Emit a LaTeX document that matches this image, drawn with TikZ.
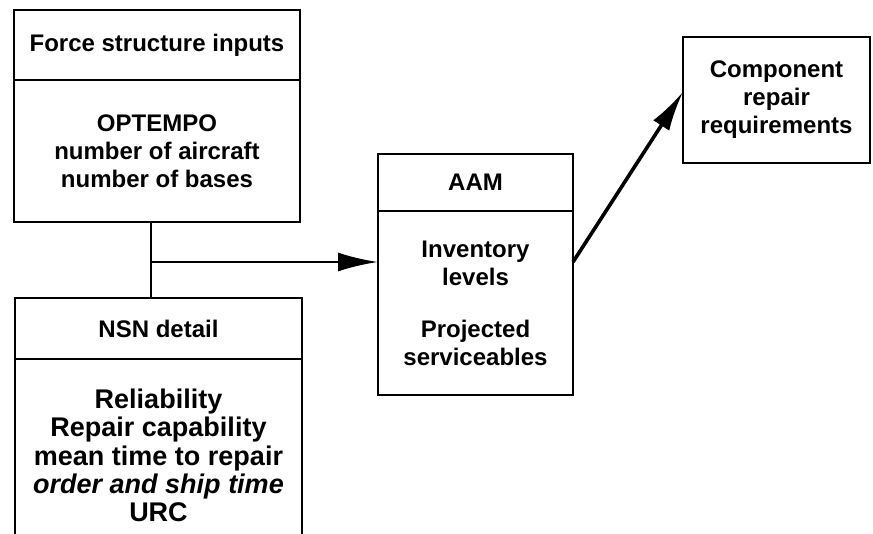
\documentclass[tikz,border=0pt]{standalone}
\usepackage{fontspec}
\setmainfont{Liberation Sans}
\usetikzlibrary{arrows.meta,positioning}

\begin{document}
\begin{tikzpicture}[x=1pt,y=-1pt,
  box/.style={draw,line width=2.4pt,outer sep=0pt,inner sep=0pt,align=center,
    font=\bfseries\fontsize{24}{28}\selectfont},
  link/.style={line width=2.6pt},
  arr/.style={line width=2.6pt,-{Latex[length=40pt,width=19pt]}}]
\useasboundingbox (0,0) rectangle (873,533);
\clip (0,0) rectangle (873,533);
% inputs
\node[box,minimum width=286,minimum height=70] (forcehd) at (157,45) {Force structure inputs};
\node[box,minimum width=286,minimum height=142,below=0pt of forcehd] (forcebody)
  {OPTEMPO\\number of aircraft\\number of bases};
\node[box,minimum width=287,minimum height=61] (nsnhd) at (158.5,328.5) {NSN detail};
\node[box,minimum width=287,minimum height=193,below=0pt of nsnhd,
  font=\bfseries\fontsize{27}{28.2}\selectfont] (nsnbody)
  {Reliability\\Repair capability\\mean time to repair\\{\itshape order and ship time}\\URC};
% model
\node[box,minimum width=195,minimum height=57] (aamhd) at (475.5,182.5) {AAM};
\node[box,minimum width=195,minimum height=184,below=0pt of aamhd] (aambody)
  {Inventory\\levels\\[24pt]Projected\\serviceables};
% output
\node[box,minimum width=187,minimum height=126] (comp) at (776.5,100)
  {Component\\repair\\requirements};
% connectors
\coordinate (jn) at (151,262);
\draw[link] (forcebody.south -| jn) -- (nsnhd.north -| jn);
\draw[arr] (jn) -- (jn -| aambody.west);
\draw[arr,line width=3.6pt] (aambody.east |- jn) -- (comp.175);
\end{tikzpicture}
\end{document}
